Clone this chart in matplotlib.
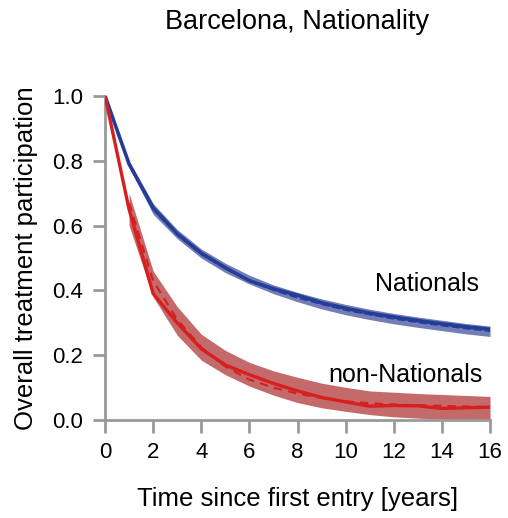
import matplotlib
matplotlib.use("Agg")
import matplotlib.pyplot as plt
import numpy as np

plt.rcParams['font.family'] = ['Liberation Sans', 'DejaVu Sans']

years = [0, 1, 2, 3, 4, 5, 6, 7, 8, 9, 10, 11, 12, 13, 14, 15, 16]

nat_obs = [1.0, 0.79, 0.655, 0.575, 0.515, 0.47, 0.43, 0.405, 0.385, 0.362, 0.345, 0.330, 0.318, 0.307, 0.297, 0.288, 0.280]
nat_model = [1.0, 0.79, 0.65, 0.572, 0.512, 0.468, 0.432, 0.402, 0.378, 0.358, 0.340, 0.326, 0.313, 0.302, 0.292, 0.283, 0.275]
nat_lo = [1.0, 0.78, 0.635, 0.56, 0.50, 0.455, 0.42, 0.39, 0.365, 0.343, 0.325, 0.310, 0.297, 0.286, 0.276, 0.266, 0.258]
nat_hi = [1.0, 0.80, 0.668, 0.588, 0.528, 0.484, 0.447, 0.417, 0.394, 0.374, 0.357, 0.342, 0.329, 0.318, 0.308, 0.298, 0.290]

non_years = [1, 2, 3, 4, 5, 6, 7, 8, 9, 10, 11, 12, 13, 14, 15, 16]
non_obs = [1.0, 0.65, 0.39, 0.30, 0.22, 0.17, 0.14, 0.113, 0.09, 0.07, 0.056, 0.043, 0.045, 0.044, 0.036, 0.038, 0.040]
non_model = [0.67, 0.43, 0.31, 0.225, 0.165, 0.125, 0.10, 0.082, 0.068, 0.058, 0.052, 0.048, 0.046, 0.044, 0.042, 0.040]
non_lo = [0.60, 0.38, 0.262, 0.185, 0.14, 0.105, 0.077, 0.054, 0.038, 0.027, 0.017, 0.010, 0.006, 0.003, 0.001, 0.0]
non_hi = [0.70, 0.46, 0.35, 0.265, 0.215, 0.178, 0.152, 0.132, 0.114, 0.101, 0.090, 0.086, 0.082, 0.079, 0.076, 0.073]

fig = plt.figure(figsize=(5.08, 5.18), dpi=100)
ax = fig.add_axes([0.2067, 0.189, 0.758, 0.6258])

blue = '#243e98'
blue_band = '#5a66aa'
red = '#d61f1f'
red_band = '#c26263'

ax.fill_between(years, nat_lo, nat_hi, color=blue_band, alpha=0.85, lw=0, zorder=1)
ax.plot(years, nat_model, color=blue, lw=1.5, ls='--', zorder=2)
ax.plot(years, nat_obs, color=blue, lw=2.6, zorder=3)

ax.fill_between(non_years, non_lo, non_hi, color=red_band, alpha=0.95, lw=0, zorder=1)
ax.plot(non_years, non_model, color=red, lw=1.5, ls=(0, (4, 3)), zorder=2)
ax.plot(years, non_obs, color=red, lw=2.4, zorder=3)

ax.set_xlim(0, 16)
ax.set_ylim(0, 1.0)
ax.set_xticks(np.arange(0, 17, 2))
ax.set_yticks(np.arange(0, 1.01, 0.2))
ax.set_yticklabels([f"{v:.1f}" for v in np.arange(0, 1.01, 0.2)])

for s in ['top', 'right']:
    ax.spines[s].set_visible(False)
for s in ['left', 'bottom']:
    ax.spines[s].set_color('#999999')
    ax.spines[s].set_linewidth(2)
ax.tick_params(direction='out', length=9, width=2, color='#999999', labelsize=16, pad=7)

ax.set_title('Barcelona, Nationality', fontsize=19.5, pad=48)
ax.set_xlabel('Time since first entry [years]', fontsize=18.5, labelpad=17)
ax.set_ylabel('Overall treatment participation', fontsize=18.5, labelpad=10)

ax.text(11.2, 0.42, 'Nationals', fontsize=18, ha='left', va='center')
ax.text(9.3, 0.14, 'non-Nationals', fontsize=18, ha='left', va='center')

fig.savefig('out.png', dpi=100)
